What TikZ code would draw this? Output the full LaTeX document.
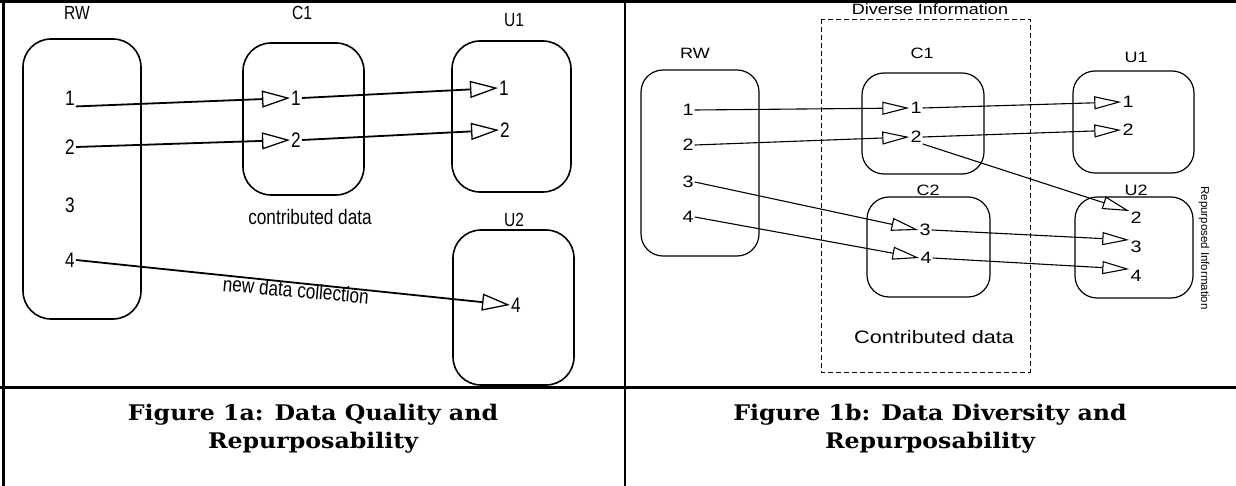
\documentclass[tikz,border=0pt]{standalone}
\usepackage{fontspec}
\setmainfont{Liberation Sans}
\newfontfamily\narrowsf[FakeStretch=0.82]{Liberation Sans}
\newfontfamily\widesf[FakeStretch=1.2]{Liberation Sans}
\newfontfamily\capfont[FakeStretch=1.1]{DejaVu Serif}
\usetikzlibrary{arrows.meta}

\begin{document}
\begin{tikzpicture}[x=1pt,y=-1pt,
    lbox/.style={draw, line width=1.6pt, rounded corners=28pt},
    rbox/.style={draw, line width=1.2pt, rounded corners=22pt},
    ltxt/.style={font=\narrowsf\fontsize{19}{22}\selectfont, inner sep=1pt},
    ldig/.style={font=\narrowsf\fontsize{21}{24}\selectfont, inner sep=1pt},
    rtxt/.style={font=\widesf\fontsize{15}{18}\selectfont, inner sep=1pt},
    rdig/.style={font=\widesf\fontsize{16.5}{19}\selectfont, inner sep=1pt},
    larr/.style={line width=1.8pt, -{Triangle[open, length=28pt, width=17pt, line width=1.3pt]}},
    rarr/.style={line width=1.1pt, -{Triangle[open, length=27pt, width=13pt, line width=1.1pt]}},
    figcaption/.style={font=\capfont\bfseries\fontsize{21.5}{28}\selectfont, align=center}]
  \useasboundingbox (0,0) rectangle (1236,486);

  % figure 1a
  \draw[lbox] (23,39) rectangle (141,319);
  \draw[lbox] (243,43) rectangle (364,195);
  \draw[lbox] (452,41) rectangle (571,192);
  \draw[lbox] (453,230) rectangle (574,385);
  \node[ltxt] (l-rw) at (77,13) {RW};
  \node[ltxt] (l-c1) at (302,13) {C1};
  \node[ltxt] (l-u1) at (514,20) {U1};
  \node[ltxt] (l-u2) at (514,220) {U2};
  \node[ldig] (l-contrib) at (310,217) {contributed data};
  \node[ldig, rotate=-5] (l-new) at (296,290) {new data collection};
  \node[ldig] (l-rw1) at (70,98) {1};
  \node[ldig] (l-rw2) at (70,147) {2};
  \node[ldig] (l-rw3) at (70,205) {3};
  \node[ldig] (l-rw4) at (70,260) {4};
  \node[ldig] (l-c1-1) at (296,98) {1};
  \node[ldig] (l-c1-2) at (296,140) {2};
  \node[ldig] (l-u1-1) at (504,88) {1};
  \node[ldig] (l-u1-2) at (505,130) {2};
  \node[ldig] (l-u2-4) at (516,305) {4};
  \draw[larr] (l-rw1.south east) -- (l-c1-1.west);
  \draw[larr] (l-rw2.east) -- (l-c1-2.west);
  \draw[larr] (l-c1-1.east) -- (l-u1-1.west);
  \draw[larr] (l-c1-2.east) -- (l-u1-2.west);
  \draw[larr] (l-rw4.east) -- (l-u2-4.west);

  % figure 1b
  \draw[dashed, line width=0.9pt, dash pattern=on 5pt off 3pt] (821,19) rectangle (1030,372);
  \draw[rbox] (641,70) rectangle (759,256);
  \draw[rbox] (862,73) rectangle (984,174);
  \draw[rbox] (1073,71) rectangle (1194,173);
  \draw[rbox] (867,197) rectangle (990,297);
  \draw[rbox] (1075,197) rectangle (1193,298);
  \node[rtxt] (r-div) at (930,9) {Diverse Information};
  \node[rtxt] (r-rw) at (695,53) {RW};
  \node[rtxt] (r-c1) at (922,53) {C1};
  \node[rtxt] (r-u1) at (1136,57) {U1};
  \node[rtxt] (r-c2) at (928,190) {C2};
  \node[rtxt] (r-u2) at (1136,190) {U2};
  \node[font=\fontsize{11.5}{13}\selectfont, rotate=-90] (r-rep) at (1204,248) {Repurposed Information};
  \node[font=\widesf\fontsize{18}{20}\selectfont] (r-contrib) at (934,337) {Contributed data};
  \node[rdig] (r-rw1) at (688,110) {1};
  \node[rdig] (r-rw2) at (688,145) {2};
  \node[rdig] (r-rw3) at (688,182) {3};
  \node[rdig] (r-rw4) at (688,217) {4};
  \node[rdig] (r-c1-1) at (916,108) {1};
  \node[rdig] (r-c1-2) at (916,137) {2};
  \node[rdig] (r-u1-1) at (1128,102) {1};
  \node[rdig] (r-u1-2) at (1128,130) {2};
  \node[rdig] (r-c2-3) at (925,230) {3};
  \node[rdig] (r-c2-4) at (926,258) {4};
  \node[rdig] (r-u2-2) at (1136,218) {2};
  \node[rdig] (r-u2-3) at (1136,247) {3};
  \node[rdig] (r-u2-4) at (1136,276) {4};
  \draw[rarr] (r-rw1.east) -- (r-c1-1.west);
  \draw[rarr] (r-rw2.east) -- (r-c1-2.west);
  \draw[rarr] (r-c1-1.east) -- (r-u1-1.west);
  \draw[rarr] (r-c1-2.east) -- (r-u1-2.west);
  \draw[rarr] (r-c1-2.south east) -- (r-u2-2.north west);
  \draw[rarr] (r-rw3.east) -- (r-c2-3.west);
  \draw[rarr] (r-rw4.east) -- (r-c2-4.west);
  \draw[rarr] (r-c2-3.east) -- (r-u2-3.north west);
  \draw[rarr] (r-c2-4.east) -- (r-u2-4.north west);

  % table rules and captions
  \draw[line width=3pt] (0,1.5) -- (1236,1.5);
  \draw[line width=3pt] (0,387) -- (1236,387);
  \draw[line width=3pt] (3,0) -- (3,486);
  \draw[line width=2.5pt] (625,0) -- (625,486);
  \node[figcaption] (cap-a) at (313,429) {Figure 1a: Data Quality and\\Repurposability};
  \node[figcaption] (cap-b) at (930,429) {Figure 1b: Data Diversity and\\Repurposability};
\end{tikzpicture}
\end{document}
